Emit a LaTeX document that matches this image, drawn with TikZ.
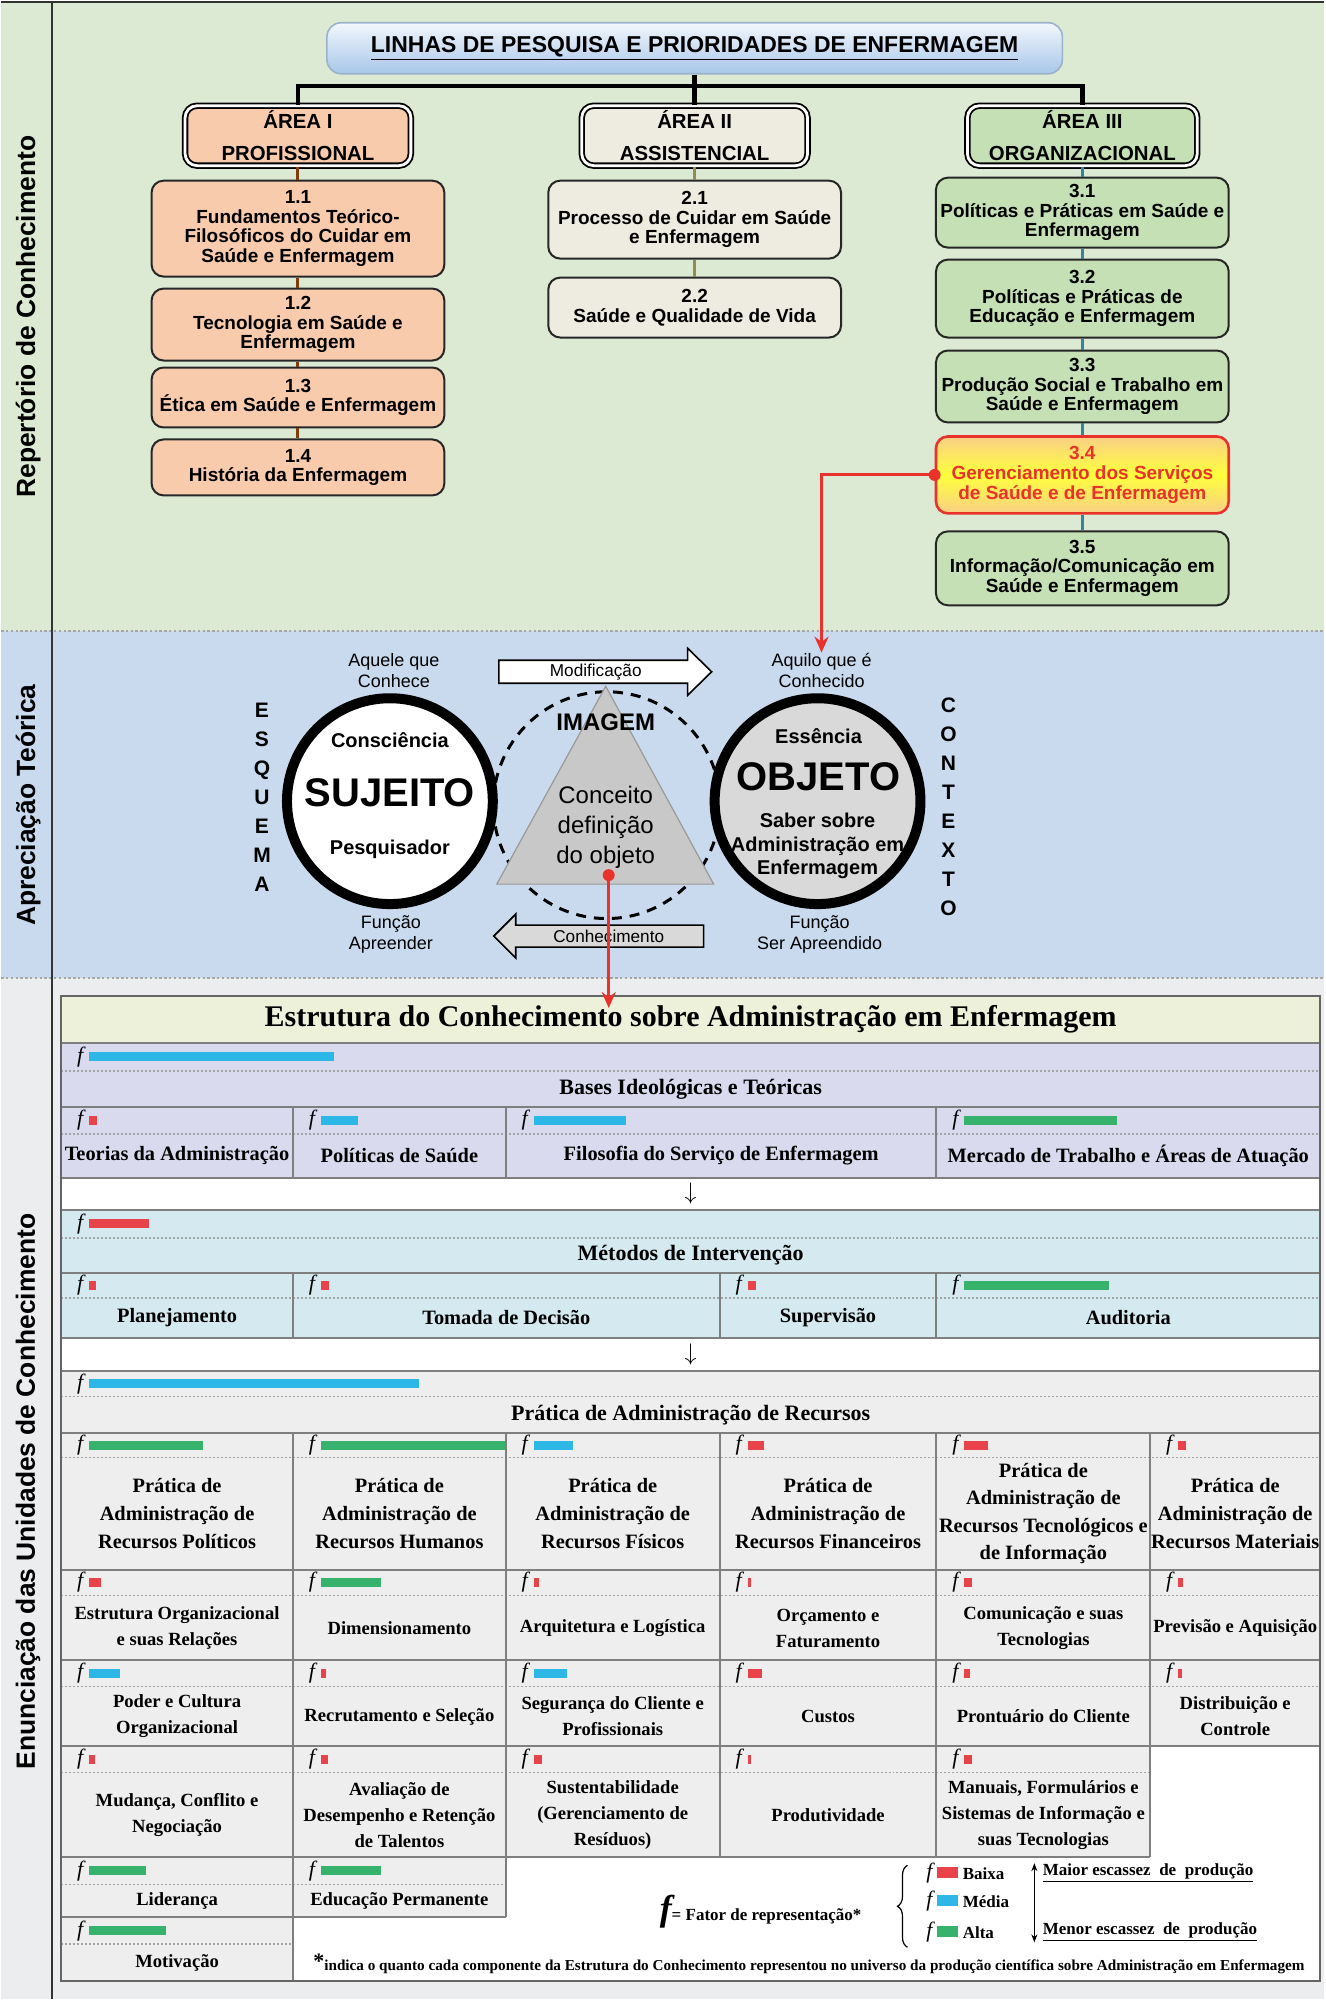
\documentclass[tikz,border=0pt]{standalone}
\usepackage{fontspec}
\setmainfont{Liberation Serif}
\setsansfont{Liberation Sans}
\usetikzlibrary{arrows.meta,positioning,calc,decorations.pathreplacing}

% colours
\definecolor{bandgreen}{HTML}{DCEAD4}
\definecolor{bandblue}{HTML}{C9DAEE}
\definecolor{bandgray}{HTML}{EBEDEE}
\definecolor{titletop}{HTML}{F2F7FC}
\definecolor{titlebot}{HTML}{A8C6EA}
\definecolor{peach}{HTML}{F8CBAD}
\definecolor{beige}{HTML}{EEECE1}
\definecolor{leaf}{HTML}{C5E0B4}
\definecolor{brownline}{HTML}{843C0C}
\definecolor{oliveline}{HTML}{948A54}
\definecolor{tealline}{HTML}{31859C}
\definecolor{redmark}{HTML}{E8322B}
\definecolor{hiorange}{HTML}{F9CF86}
\definecolor{hiyellow}{HTML}{FFFF3C}
\definecolor{objgray}{HTML}{D9D9D9}
\definecolor{trigray}{HTML}{C8C8C8}
\definecolor{titlebg}{HTML}{EEF1DA}
\definecolor{basesbg}{HTML}{D9DAEE}
\definecolor{metodbg}{HTML}{D4EAF0}
\definecolor{praticabg}{HTML}{EEEEEE}
\definecolor{barred}{HTML}{E8434A}
\definecolor{barcyan}{HTML}{2DB7E6}
\definecolor{bargreen}{HTML}{36B26C}
\definecolor{gridline}{HTML}{7F7F7F}

\newcommand{\arialb}[2]{\sffamily\bfseries\fontsize{#1}{#2}\selectfont}
\newcommand{\arialr}[2]{\sffamily\fontsize{#1}{#2}\selectfont}
\newcommand{\timesb}[2]{\rmfamily\bfseries\fontsize{#1}{#2}\selectfont}

% f mark and bar: name, column left, row centre, bar length, colour
\newcommand{\fbar}[5]{%
  \node[fmark] (#1) at (#2+19,#3) {f};
  \fill[fill=#5] (#2+28,#3-4.5) rectangle (#2+28+#4,#3+4.5);
}

\begin{document}
\begin{tikzpicture}[x=0.5pt,y=-0.5pt,
  every node/.style={inner sep=0pt},
  band/.style={line width=1.2pt, gray!70, dash pattern=on 1.2pt off 1.2pt},
  sidelabel/.style={rotate=90, font=\arialb{13.2}{15}},
  tree/.style={line width=2.2pt, black},
  titlebox/.style={draw=titlebot!70!gray, line width=0.8pt, rounded corners=7pt,
    top color=titletop, bottom color=titlebot, minimum width=368pt,
    minimum height=25.5pt, font=\arialb{11.5}{13}},
  areabox/.style={draw=black, line width=0.9pt, double=white, double distance=1.4pt,
    rounded corners=6pt, align=center, font=\arialb{10.2}{16},
    minimum width=113pt, minimum height=30pt},
  linebox/.style={draw=black!85, line width=1pt, rounded corners=6pt, align=center,
    font=\arialb{9.5}{9.8}, minimum width=146.5pt},
  link/.style={line width=1.5pt},
  redline/.style={draw=redmark, line width=1.5pt},
  reddot/.style={circle, fill=redmark, minimum size=6pt},
  small/.style={font=\arialr{9}{10.5}, align=center},
  rowline/.style={draw=gridline, line width=1pt},
  subline/.style={draw=gridline!70, line width=0.8pt, dash pattern=on 1pt off 1pt},
  fmark/.style={font=\rmfamily\itshape\fontsize{11}{11}\selectfont},
  cell/.style={align=center, font=\timesb{10.2}{13.8}},
  cellsm/.style={align=center, font=\timesb{9.3}{13}},
  head/.style={font=\timesb{11}{13}}]

% Bands
\fill[bandgreen] (0,0) rectangle (1324,631);
\fill[bandblue] (0,631) rectangle (1324,978);
\fill[bandgray] (0,978) rectangle (1324,2000);
\draw[band] (0,631) -- (1324,631);
\draw[band] (0,978) -- (1324,978);
\draw[black!80, line width=1pt] (0,1) -- (1324,1);
\draw[black!80, line width=0.8pt] (51,0) -- (51,2000);
\node[sidelabel] (lab1) at (27,316) {Repertório de Conhecimento};
\node[sidelabel] (lab2) at (27,805) {Apreciação Teórica};
\node[sidelabel] (lab3) at (27,1492) {Enunciação das Unidades de Conhecimento};

% Research lines
\node[titlebox] (titulo) at (694,47.5)
  {\underline{LINHAS DE PESQUISA E PRIORIDADES DE ENFERMAGEM}};
\node[areabox, fill=peach] (area1) at (297,135) {ÁREA I\\PROFISSIONAL};
\node[areabox, fill=beige] (area2) at (694,135) {ÁREA II\\ASSISTENCIAL};
\node[areabox, fill=leaf, minimum width=115pt] (area3) at (1082,135) {ÁREA III\\ORGANIZACIONAL};
\coordinate (fork) at (694,85);
\draw[tree] (titulo.south) -- (area2.north);
\draw[tree] (area1.north) |- (fork) -| (area3.north);

\node[linebox, fill=peach, minimum height=48pt] (b11) at (297,228)
  {1.1\\Fundamentos Teórico-\\Filosóficos do Cuidar em\\Saúde e Enfermagem};
\node[linebox, fill=peach, minimum height=36pt] (b12) at (297,324)
  {1.2\\Tecnologia em Saúde e\\Enfermagem};
\node[linebox, fill=peach, minimum height=30pt] (b13) at (297,397)
  {1.3\\Ética em Saúde e Enfermagem};
\node[linebox, fill=peach, minimum height=28pt] (b14) at (297,467)
  {1.4\\História da Enfermagem};
\node[linebox, fill=beige, minimum height=39pt] (b21) at (694,219)
  {2.1\\Processo de Cuidar em Saúde\\e Enfermagem};
\node[linebox, fill=beige, minimum height=30pt] (b22) at (694,307)
  {2.2\\Saúde e Qualidade de Vida};
\node[linebox, fill=leaf, minimum height=35pt] (b31) at (1082,212)
  {3.1\\Políticas e Práticas em Saúde e\\Enfermagem};
\node[linebox, fill=leaf, minimum height=39pt] (b32) at (1082,298)
  {3.2\\Políticas e Práticas de\\Educação e Enfermagem};
\node[linebox, fill=leaf, minimum height=36pt] (b33) at (1082,386)
  {3.3\\Produção Social e Trabalho em\\Saúde e Enfermagem};
\node[linebox, draw=redmark, line width=1.3pt, top color=hiorange, bottom color=hiorange,
  middle color=hiyellow, text=redmark, minimum height=38.5pt] (b34) at (1082,474.5)
  {3.4\\Gerenciamento dos Serviços\\de Saúde e de Enfermagem};
\node[linebox, fill=leaf, minimum height=37pt] (b35) at (1082,568)
  {3.5\\Informação/Comunicação em\\Saúde e Enfermagem};

\foreach \a/\b in {area1/b11,b11/b12,b12/b13,b13/b14}
  \draw[link, brownline] (\a.south) -- (\b.north);
\foreach \a/\b in {area2/b21,b21/b22}
  \draw[link, oliveline] (\a.south) -- (\b.north);
\foreach \a/\b in {area3/b31,b31/b32,b32/b33,b33/b34,b34/b35}
  \draw[link, tealline] (\a.south) -- (\b.north);

% Subject and object
\node[small] (aquele) at (393,670) {Aquele que\\Conhece};
\node[small] (aquilo) at (821,670) {Aquilo que é\\Conhecido};
\node[small] (funcA) at (390,934) {Função\\Apreender};
\node[small] (funcB) at (819,934) {Função\\Ser Apreendido};
\node[font=\arialb{10.5}{14.5}, align=center] (esquema) at (261,797) {E\\S\\Q\\U\\E\\M\\A};
\node[font=\arialb{10.5}{14.5}, align=center] (contexto) at (948,807) {C\\O\\N\\T\\E\\X\\T\\O};

\node[circle, draw=black, line width=1.5pt, dash pattern=on 5pt off 4pt,
  minimum size=113.5pt] (img) at (606,805) {};
\node[circle, draw=black, line width=5pt, fill=white, minimum size=103pt] (suj) at (389,801) {};
\node[circle, draw=black, line width=5pt, fill=objgray, minimum size=103pt] (obj) at (817,801) {};
\filldraw[fill=trigray, draw=gray!80, line width=0.6pt] (605,686) -- (713,884) -- (496,884) -- cycle;

\node[font=\arialb{10}{12}] (consc) at (389,740) {Consciência};
\node[font=\arialb{20}{22}] (sujt) at (389,793) {SUJEITO};
\node[font=\arialb{10}{12}] (pesq) at (389,849) {Pesquisador};
\node[font=\arialb{10}{12}] (essen) at (818,736) {Essência};
\node[font=\arialb{20}{22}] (objt) at (818,777) {OBJETO};
\node[font=\arialb{10}{11.8}, align=center] (saber) at (817,846)
  {Saber sobre\\Administração em\\Enfermagem};
\node[font=\arialb{12}{14}] (imagem) at (605,722) {IMAGEM};
\node[font=\arialr{12}{15}, align=center] (conceito) at (605,827) {Conceito\\definição\\do objeto};

% Block arrows
\filldraw[fill=white, draw=black, line width=0.8pt]
  (498,660) -- (687,660) -- (687,648) -- (711,671.5) -- (687,695) -- (687,683) -- (498,683) -- cycle;
\node[font=\arialr{8.6}{10}] (modif) at (595,671.5) {Modificação};
\filldraw[fill=objgray, draw=black, line width=0.8pt]
  (703,925) -- (515,925) -- (515,914) -- (493,936) -- (515,958) -- (515,947) -- (703,947) -- cycle;
\node[font=\arialr{8.6}{10}] (conhec) at (608,936) {Conhecimento};

% Knowledge structure table
\fill[titlebg] (60,996) rectangle (1320,1043);
\fill[basesbg] (60,1043) rectangle (1320,1178);
\fill[white] (60,1178) rectangle (1320,1210);
\fill[metodbg] (60,1210) rectangle (1320,1338);
\fill[white] (60,1338) rectangle (1320,1371);
\fill[praticabg] (60,1371) rectangle (1320,1747);
\fill[praticabg] (60,1747) rectangle (1150,1858);
\fill[praticabg] (60,1858) rectangle (505,1918);
\fill[praticabg] (60,1918) rectangle (292,1982);
\fill[white] (1150,1747) rectangle (1320,1858);
\fill[white] (505,1858) rectangle (1320,1982);
\fill[white] (292,1918) rectangle (505,1982);

\foreach \y/\xr in {1043/1320,1107/1320,1178/1320,1210/1320,1273/1320,1338/1320,1371/1320,
    1433/1320,1570/1320,1661/1320,1747/1320,1858/1150,1918/505}
  \draw[rowline] (60,\y) -- (\xr,\y);
\foreach \y/\xr in {1071/1320,1134/1320,1238/1320,1298/1320,1397/1320,1458/1320,
    1596/1320,1687/1320,1773/1150,1885/505,1945/292}
  \draw[subline] (60,\y) -- (\xr,\y);
\foreach \x in {292,505,936}
  \draw[rowline] (\x,1107) -- (\x,1178);
\foreach \x in {292,719,936}
  \draw[rowline] (\x,1273) -- (\x,1338);
\foreach \x/\yb in {292/1982,505/1918,719/1858,936/1858,1150/1858}
  \draw[rowline] (\x,1433) -- (\x,\yb);
\draw[gridline!80!black, line width=1.2pt] (60,996) rectangle (1320,1982);

\node[font=\timesb{15}{17}] (estr) at (690,1019.5)
  {Estrutura do Conhecimento sobre Administração em Enfermagem};
\node[head] (tB) at (690,1089) {Bases Ideológicas e Teóricas};
\node[head] (tM) at (690,1255.5) {Métodos de Intervenção};
\node[head] (tP) at (690,1415) {Prática de Administração de Recursos};
\node[font=\fontsize{13}{13}\selectfont] (seta1) at (690,1194) {$\downarrow$};
\node[font=\fontsize{13}{13}\selectfont] (seta2) at (690,1354.5) {$\downarrow$};

\foreach \n/\x/\t in {tB1/176/{Teorias da Administração}, tB2/398.5/{Políticas de Saúde},
    tB3/720.5/{Filosofia do Serviço de Enfermagem}, tB4/1128/{Mercado de Trabalho e Áreas de Atuação}}
  \node[cell] (\n) at (\x,1156) {\t};
\foreach \n/\x/\t in {tM1/176/{Planejamento}, tM2/505.5/{Tomada de Decisão},
    tM3/827.5/{Supervisão}, tM4/1128/{Auditoria}}
  \node[cell] (\n) at (\x,1318) {\t};
\foreach \n/\x/\t in {tA1/176/{Prática de\\Administração de\\Recursos Políticos},
    tA2/398.5/{Prática de\\Administração de\\Recursos Humanos},
    tA3/612/{Prática de\\Administração de\\Recursos Físicos},
    tA4/827.5/{Prática de\\Administração de\\Recursos Financeiros},
    tA5/1043/{Prática de\\Administração de\\Recursos Tecnológicos e\\de Informação},
    tA6/1235/{Prática de\\Administração de\\Recursos Materiais}}
  \node[cell] (\n) at (\x,1514) {\t};
\foreach \n/\x/\t in {tC1/176/{Estrutura Organizacional\\e suas Relações},
    tC2/398.5/{Dimensionamento}, tC3/612/{Arquitetura e Logística},
    tC4/827.5/{Orçamento e\\Faturamento}, tC5/1043/{Comunicação e suas\\Tecnologias},
    tC6/1235/{Previsão e Aquisição}}
  \node[cellsm] (\n) at (\x,1628.5) {\t};
\foreach \n/\x/\t in {tD1/176/{Poder e Cultura\\Organizacional},
    tD2/398.5/{Recrutamento e Seleção}, tD3/612/{Segurança do Cliente e\\Profissionais},
    tD4/827.5/{Custos}, tD5/1043/{Prontuário do Cliente}, tD6/1235/{Distribuição e\\Controle}}
  \node[cellsm] (\n) at (\x,1717) {\t};
\foreach \n/\x/\t in {tE1/176/{Mudança, Conflito e\\Negociação},
    tE2/398.5/{Avaliação de\\Desempenho e Retenção\\de Talentos},
    tE3/612/{Sustentabilidade\\(Gerenciamento de\\Resíduos)}, tE4/827.5/{Produtividade},
    tE5/1043/{Manuais, Formulários e\\Sistemas de Informação e\\suas Tecnologias}}
  \node[cellsm] (\n) at (\x,1815.5) {\t};
\node[cellsm] (tF1) at (176,1901.5) {Liderança};
\node[cellsm] (tF2) at (398.5,1901.5) {Educação Permanente};
\node[cellsm] (tG1) at (176,1963.5) {Motivação};

% f marks with bars
\foreach \n/\x/\y/\l/\c in {fB/60/1057/245/barcyan, fB1/60/1120.5/8/barred,
    fB2/292/1120.5/37/barcyan, fB3/505/1120.5/92/barcyan, fB4/936/1120.5/153/bargreen,
    fM/60/1224/60/barred, fM1/60/1285.5/7/barred, fM2/292/1285.5/8/barred,
    fM3/719/1285.5/8/barred, fM4/936/1285.5/145/bargreen, fP/60/1384/330/barcyan,
    fA1/60/1445.5/114/bargreen, fA2/292/1445.5/184/bargreen, fA3/505/1445.5/39/barcyan,
    fA4/719/1445.5/16/barred, fA5/936/1445.5/24/barred, fA6/1150/1445.5/8/barred,
    fC1/60/1583/12/barred, fC2/292/1583/60/bargreen, fC3/505/1583/5/barred,
    fC4/719/1583/3/barred, fC5/936/1583/8/barred, fC6/1150/1583/5/barred,
    fD1/60/1674/31/barcyan, fD2/292/1674/5/barred, fD3/505/1674/33/barcyan,
    fD4/719/1674/14/barred, fD5/936/1674/6/barred, fD6/1150/1674/4/barred,
    fE1/60/1760/6/barred, fE2/292/1760/7/barred, fE3/505/1760/8/barred,
    fE4/719/1760/3/barred, fE5/936/1760/8/barred,
    fF1/60/1871.5/57/bargreen, fF2/292/1871.5/60/bargreen, fG1/60/1931.5/77/bargreen}
  {\fbar{\n}{\x}{\y}{\l}{\c}}

% Legend
\node[font=\timesb{8.5}{10}] (legf) at (760,1912)
  {{\fontsize{18}{18}\selectfont\itshape f}= Fator de representação*};
\draw[decorate, decoration={brace, amplitude=5pt}, line width=0.6pt] (907,1948) -- (907,1866);
\foreach \n/\y/\c/\t in {lb/1874/barred/Baixa, lm/1902/barcyan/Média, la/1933/bargreen/Alta} {
  \node[fmark] (f\n) at (929,\y) {f};
  \fill[fill=\c] (937,\y-6) rectangle (958,\y+5);
  \node[anchor=west, font=\timesb{8.5}{10}] (\n) at (962,\y) {\t};
}
\node[anchor=west, font=\timesb{8.5}{10}] (maior) at (1042,1874) {\underline{Maior escassez\ \ de\ \ produção}};
\node[anchor=west, font=\timesb{8.5}{10}] (menor) at (1042,1933) {\underline{Menor escassez\ \ de\ \ produção}};
\draw[line width=0.6pt, {Stealth[length=4pt,width=3pt]}-{Stealth[length=4pt,width=3pt]}]
  ([xshift=-4pt]maior.north west) -- ([xshift=-4pt]menor.south west);
\node[anchor=west, font=\timesb{7.6}{9}] (nota) at (312,1965)
  {\raisebox{1pt}{\fontsize{11}{11}\selectfont *}indica o quanto cada componente da Estrutura do Conhecimento representou no universo da produção científica sobre Administração em Enfermagem};

% Red links
\node[reddot] (dotA) at (b34.west) {};
\draw[redline, -{Stealth[length=8pt,width=7pt]}] (dotA.center) -| (aquilo.north);
\node[reddot] (dotB) at (608,875) {};
\coordinate (estrtip) at (608,1008);
\draw[redline, -{Stealth[length=8pt,width=7pt]}] (dotB.center) -- (estrtip);
\end{tikzpicture}
\end{document}
